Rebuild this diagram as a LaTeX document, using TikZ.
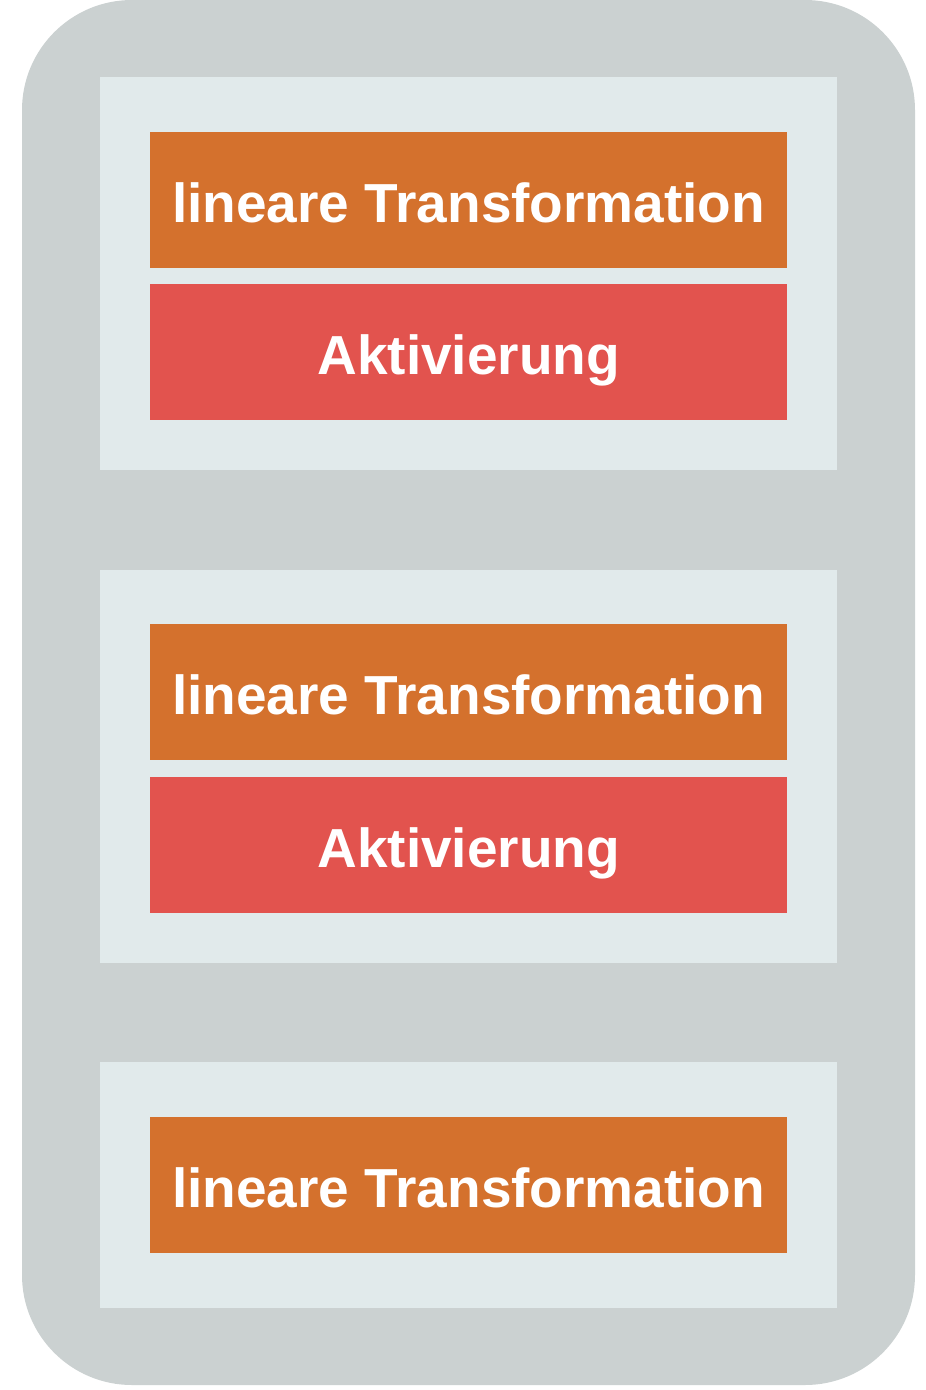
\documentclass[tikz,border=0pt]{standalone}
\usepackage{fontspec}
\setmainfont{Liberation Sans}
\definecolor{outergray}{HTML}{CBD1D1}
\definecolor{layerbg}{HTML}{E1EAEB}
\definecolor{lintrans}{HTML}{D4712D}
\definecolor{aktiv}{HTML}{E2534E}
\tikzset{
  layerbox/.style={fill=layerbg, draw=none},
  opbox/.style={minimum width=637pt, minimum height=136pt, inner sep=0pt, anchor=north west,
    text height=44pt, text depth=0pt,
    text=white, font=\fontsize{55}{60}\selectfont\bfseries},
  linbox/.style={opbox, fill=lintrans},
  actbox/.style={opbox, fill=aktiv}
}
\begin{document}
\begin{tikzpicture}[x=1pt,y=-1pt]
\useasboundingbox (0,0) rectangle (926,1390);

% outer frame
\fill[outergray, rounded corners=110pt] (22,0) rectangle (915,1385);

% layer 1
\fill[layerbox] (100,77) rectangle (837,470);
\node[linbox] (lin1) at (150,132) {lineare Transformation};
\node[actbox] (act1) at (150,284) {Aktivierung};

% layer 2
\fill[layerbox] (100,570) rectangle (837,963);
\node[linbox] (lin2) at (150,624) {lineare Transformation};
\node[actbox] (act2) at (150,777) {Aktivierung};

% layer 3
\fill[layerbox] (100,1062) rectangle (837,1308);
\node[linbox] (lin3) at (150,1117) {lineare Transformation};

\end{tikzpicture}
\end{document}
